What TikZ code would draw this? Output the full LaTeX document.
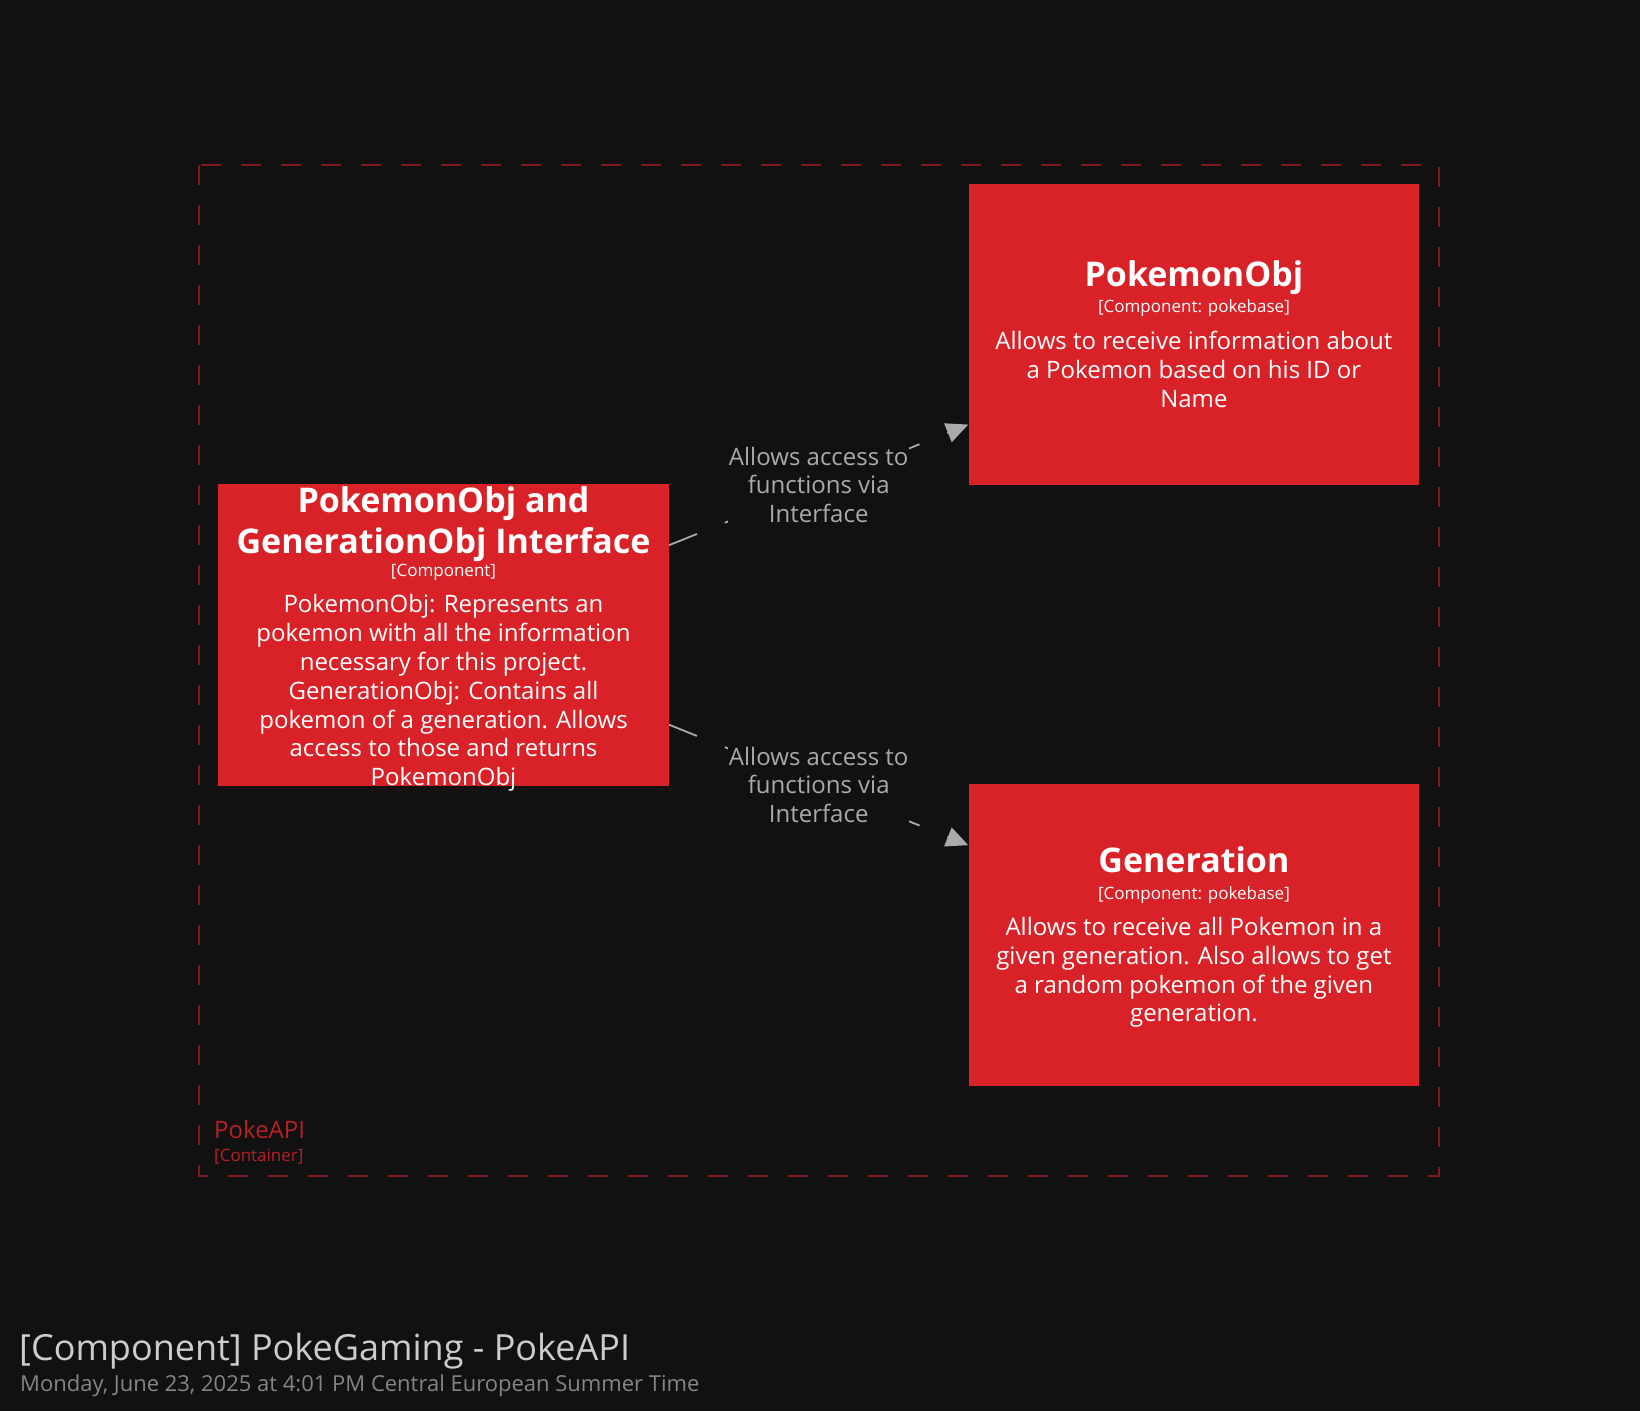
\documentclass[tikz,border=0pt]{standalone}
\usepackage{fontspec}
\setmainfont{Open Sans}
\usetikzlibrary{arrows.meta}
\definecolor{bg}{HTML}{111111}
\definecolor{boxred}{HTML}{D92228}
\definecolor{bndred}{HTML}{7D1A1F}
\definecolor{lblred}{HTML}{B82028}
\definecolor{edgegray}{HTML}{AAAAAA}
\definecolor{titlegray}{HTML}{CCCCCC}
\definecolor{dategray}{HTML}{858585}
\tikzset{
  compbox/.style={draw=none, fill=boxred, minimum width=450.8pt, minimum height=301.2pt, inner sep=0pt},
  nametxt/.style={text=white, font=\bfseries\fontsize{34}{40.8}\selectfont, align=center, inner sep=0pt},
  metatxt/.style={text=white, font=\fontsize{17}{20.4}\selectfont, inner sep=0pt},
  desctxt/.style={text=white, font=\fontsize{24}{28.8}\selectfont, align=center, inner sep=0pt},
  reltxt/.style={text=edgegray, fill=bg, font=\fontsize{24}{28.8}\selectfont, align=center, inner xsep=1pt, inner ysep=3pt},
  relline/.style={draw=edgegray, line width=1.8pt, dash pattern=on 30pt off 30pt, -{Triangle[length=22pt,width=20pt]}},
  boundary/.style={draw=bndred, line width=2pt, dash pattern=on 20pt off 20pt}
}
\begin{document}
\begin{tikzpicture}[x=1pt, y=-1pt]
\fill[bg] (0,0) rectangle (1640,1411);
\useasboundingbox (0,0) rectangle (1640,1411);

% container boundary
\draw[boundary] (198.7,164.7) rectangle (1439,1175.6);
\node[anchor=west, text=lblred, font=\fontsize{24}{28.8}\selectfont, inner sep=0pt] (bname) at (214,1129) {PokeAPI};
\node[anchor=west, text=lblred, font=\fontsize{17}{20.4}\selectfont, inner sep=0pt] (bmeta) at (214,1156.5) {[Container]};

% boxes
\node[compbox] (pobj) at (1193.9,334.6) {};
\node[compbox] (iface) at (443.5,635) {};
\node[compbox] (gen) at (1193.9,935) {};

% PokemonObj text
\node[nametxt] (pobjname) at (1193.9,278) {PokemonObj};
\node[metatxt] (pobjmeta) at (1193.9,308.5) {[Component: pokebase]};
\node[desctxt] (pobjdesc) at (1193.9,369.5) {Allows to receive information about\\a Pokemon based on his ID or\\Name};

% Interface text
\node[nametxt] (ifname) at (443.5,524.5) {PokemonObj and\\GenerationObj Interface};
\node[metatxt] (ifmeta) at (443.5,572) {[Component]};
\node[desctxt] (ifdesc) at (443.5,693) {PokemonObj: Represents an\\pokemon with all the information\\necessary for this project.\\GenerationObj: Contains all\\pokemon of a generation. Allows\\access to those and returns\\PokemonObj};

% Generation text
\node[nametxt] (genname) at (1193.9,860) {Generation};
\node[metatxt] (genmeta) at (1193.9,895) {[Component: pokebase]};
\node[desctxt] (gendesc) at (1193.9,972.5) {Allows to receive all Pokemon in a\\given generation. Also allows to get\\a random pokemon of the given\\generation.};

% relationships
\draw[relline] (iface) -- (pobj) node[reltxt, midway] (rel1) {Allows access to\\functions via\\Interface};
\draw[relline] (iface) -- (gen) node[reltxt, midway] (rel2) {Allows access to\\functions via\\Interface};

% title
\node[anchor=west, text=titlegray, font=\fontsize{36}{43.2}\selectfont, inner sep=0pt] (title) at (19,1351) {[Component] PokeGaming - PokeAPI};
\node[anchor=west, text=dategray, font=\fontsize{22}{26.4}\selectfont, inner sep=0pt] (date) at (20,1386) {Monday, June 23, 2025 at 4:01 PM Central European Summer Time};
\end{tikzpicture}
\end{document}
